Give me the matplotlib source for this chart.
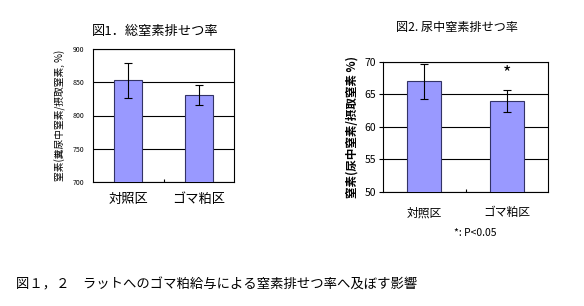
import matplotlib.pyplot as plt

plt.rcParams['font.family'] = ['Noto Sans CJK JP', 'DejaVu Sans']

groups = ["対照区", "ゴマ粕区"]
total_n = [853, 831]
total_err = [26, 15.5]
urine_n = [67.0, 64.0]
urine_err = [2.7, 1.7]

bar_color = "#9999FF"
W, H = 584, 306

fig = plt.figure(figsize=(W / 100, H / 100), dpi=100)

def make_axes(l, t, r, b):
    return fig.add_axes([l / W, 1 - b / H, (r - l) / W, (b - t) / H])

# fig 1: total nitrogen
ax1 = make_axes(93, 49, 234, 182)
ax1.bar(range(2), total_n, width=0.4, color=bar_color, edgecolor="#333366",
        linewidth=0.8, yerr=total_err, capsize=3,
        error_kw=dict(elinewidth=0.8, capthick=0.8), zorder=3)
ax1.set_xlim(-0.5, 1.5)
ax1.set_ylim(700, 900)
ax1.set_yticks([700, 750, 800, 850, 900])
ax1.tick_params(axis='y', length=0, labelsize=5, pad=6)
ax1.set_xticks([0.5])
ax1.set_xticklabels([""])
ax1.tick_params(axis='x', direction='in', length=2)
ax1.yaxis.grid(True, color="black", linewidth=0.8)
ax1.set_axisbelow(True)
for s in ax1.spines.values():
    s.set_linewidth(0.8)
for i, g in enumerate(groups):
    ax1.text(i, -0.13, g, transform=ax1.get_xaxis_transform(), ha="center",
             va="center", fontsize=9.5)
ax1.set_ylabel("窒素(糞尿中窒素/摂取窒素, %)", fontsize=7, labelpad=5)
fig.text(155 / W, 1 - 31 / H, "図1．総窒素排せつ率", ha="center", va="center",
         fontsize=9.5)

# fig 2: urinary nitrogen
ax2 = make_axes(383, 62, 548, 192)
ax2.bar(range(2), urine_n, width=0.41, color=bar_color, edgecolor="#333366",
        linewidth=0.8, yerr=urine_err, capsize=3,
        error_kw=dict(elinewidth=0.8, capthick=0.8), zorder=3)
ax2.set_xlim(-0.5, 1.5)
ax2.set_ylim(50, 70)
ax2.set_yticks([50, 55, 60, 65, 70])
ax2.tick_params(axis='y', length=3, labelsize=7.5, pad=2)
ax2.set_xticks([0.5])
ax2.set_xticklabels([""])
ax2.tick_params(axis='x', direction='in', length=2)
ax2.yaxis.grid(True, color="black", linewidth=0.8)
ax2.set_axisbelow(True)
for s in ax2.spines.values():
    s.set_linewidth(0.8)
for i, g in enumerate(groups):
    ax2.text(i, -0.16, g, transform=ax2.get_xaxis_transform(), ha="center",
             va="center", fontsize=8.5)
ax2.text(1, 68.3, "*", ha="center", va="center", fontsize=13)
ax2.set_ylabel("窒素(尿中窒素/摂取窒素 %)", fontsize=8.3, labelpad=4,
               fontweight="bold")
fig.text(457 / W, 1 - 27 / H, "図2. 尿中窒素排せつ率", ha="center",
         va="center", fontsize=8.7)
fig.text(475 / W, 1 - 233 / H, "*: P<0.05", ha="center", va="center",
         fontsize=7.5)

fig.text(16 / W, 1 - 284 / H, "図１，２　ラットへのゴマ粕給与による窒素排せつ率へ及ぼす影響",
         ha="left", va="center", fontsize=9.6)

fig.savefig("out.png", dpi=100)
